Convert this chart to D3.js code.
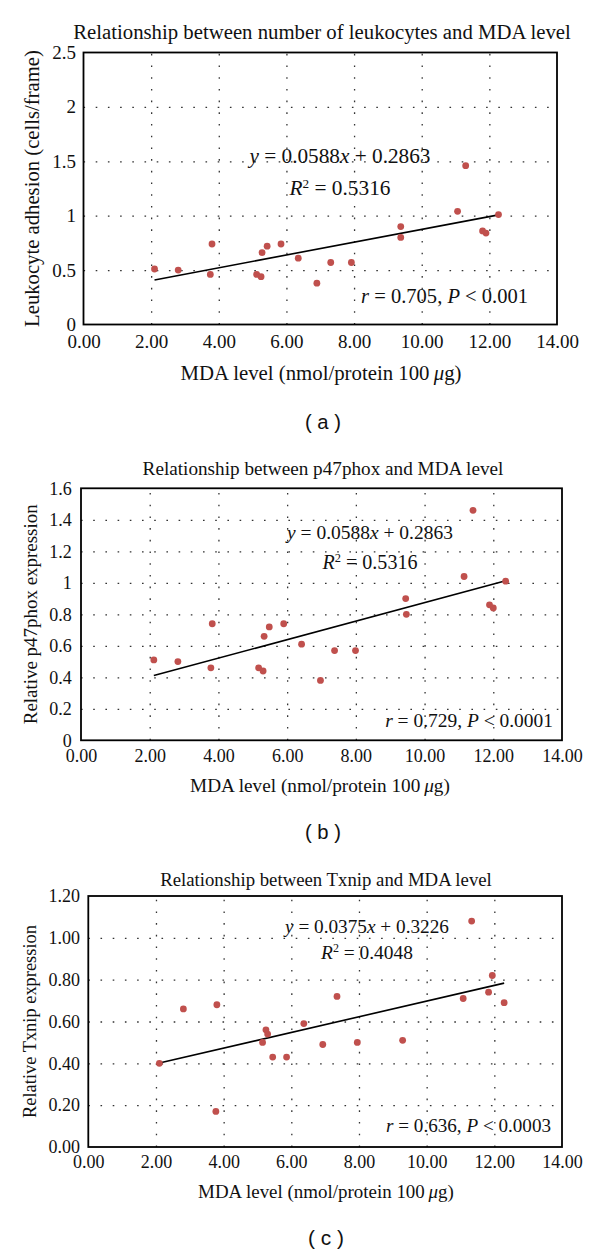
<!DOCTYPE html>
<html>
<head>
<meta charset="utf-8">
<script src="https://cdn.jsdelivr.net/npm/d3@7"></script>
<style>
  body { margin: 0; background: #fff; }
  svg { display: block; }
</style>
</head>
<body>
<div id="chart"></div>
<script>
// values
const xTicks = [0, 2, 4, 6, 8, 10, 12, 14];
const xGrid = [2, 4, 6, 8, 10, 12];

const mdaA = [2.1, 2.8, 3.75, 3.8, 5.12, 5.25, 5.28, 5.43, 5.84, 6.35, 6.9, 7.31, 7.92, 9.38, 9.38, 11.06, 11.3, 11.8, 11.9, 12.27];
const leukocytes = [0.51, 0.50, 0.46, 0.74, 0.46, 0.44, 0.66, 0.72, 0.74, 0.61, 0.38, 0.57, 0.57, 0.90, 0.80, 1.04, 1.46, 0.86, 0.84, 1.01];
const yTicksA = [0, 0.5, 1, 1.5, 2, 2.5];

const mdaB = [2.12, 2.82, 3.78, 3.82, 5.17, 5.30, 5.33, 5.48, 5.90, 6.42, 6.97, 7.38, 7.99, 9.45, 9.47, 11.15, 11.41, 11.89, 12.0, 12.36];
const p47phox = [0.51, 0.50, 0.46, 0.74, 0.46, 0.44, 0.66, 0.72, 0.74, 0.61, 0.38, 0.57, 0.57, 0.90, 0.80, 1.04, 1.46, 0.86, 0.84, 1.01];
const yTicksB = [0, 0.2, 0.4, 0.6, 0.8, 1, 1.2, 1.4, 1.6];

const mdaC = [2.1, 2.81, 3.77, 3.80, 5.15, 5.25, 5.30, 5.45, 5.86, 6.37, 6.93, 7.35, 7.95, 9.29, 11.08, 11.33, 11.83, 11.94, 12.29];
const txnip = [0.40, 0.66, 0.17, 0.68, 0.50, 0.56, 0.54, 0.43, 0.43, 0.59, 0.49, 0.72, 0.50, 0.51, 0.71, 1.08, 0.74, 0.82, 0.69];
const yTicksC = [0, 0.2, 0.4, 0.6, 0.8, 1.0, 1.2];

const serif = "'Liberation Serif', 'Times New Roman', serif";
const sans = "'Liberation Sans', Arial, sans-serif";
const dotColor = "#c0504d";

const svg = d3.select("#chart").append("svg")
  .attr("width", 600)
  .attr("height", 1253);

// scale font size so the text spans the wanted width
function fitWidth(text, target) {
  const w = text.node().getComputedTextLength();
  const fs = parseFloat(text.attr("font-size"));
  if (w > 0) text.attr("font-size", (fs * target) / w);
}

function addParts(text, parts) {
  parts.forEach(p => {
    const t = text.append("tspan").text(p.t);
    if (p.i) t.attr("font-style", "italic");
    if (p.sup) t.attr("baseline-shift", "super").attr("font-size", "62%");
  });
}

function drawPanel(p) {
  const g = svg.append("g");
  const x = d3.scaleLinear().domain([0, 14]).range([p.left, p.right]);
  const y = d3.scaleLinear().domain([0, p.yMax]).range([p.bottom, p.top]);
  const h = p.bottom - p.top;
  const w = p.right - p.left;

  // dotted grid
  g.append("g")
    .attr("transform", `translate(0,${p.bottom})`)
    .call(d3.axisBottom(x).tickValues(xGrid).tickSize(-h).tickFormat(""))
    .call(s => s.select(".domain").remove())
    .selectAll("line")
    .attr("stroke", "#333")
    .attr("stroke-width", 1.3)
    .attr("stroke-dasharray", "1.6,10.1");

  g.append("g")
    .attr("transform", `translate(${p.left},0)`)
    .call(d3.axisLeft(y).tickValues(p.yTicks.slice(1, -1)).tickSize(-w).tickFormat(""))
    .call(s => s.select(".domain").remove())
    .selectAll("line")
    .attr("stroke", "#333")
    .attr("stroke-width", 1.3)
    .attr("stroke-dasharray", "1.6,10.6");

  // frame
  g.append("rect")
    .attr("x", p.left).attr("y", p.top)
    .attr("width", w).attr("height", h)
    .attr("fill", "none")
    .attr("stroke", "#000")
    .attr("stroke-width", 1.8);

  // tick labels
  const xAxis = g.append("g")
    .attr("transform", `translate(0,${p.bottom})`)
    .call(d3.axisBottom(x).tickValues(xTicks).tickSize(0).tickPadding(p.xPad).tickFormat(d3.format(".2f")));
  xAxis.select(".domain").remove();
  xAxis.selectAll("text")
    .attr("font-family", serif).attr("font-size", p.tickSize).attr("fill", "#111");

  const yAxis = g.append("g")
    .attr("transform", `translate(${p.left},0)`)
    .call(d3.axisLeft(y).tickValues(p.yTicks).tickSize(0).tickPadding(p.yPad).tickFormat(p.yFormat));
  yAxis.select(".domain").remove();
  yAxis.selectAll("text")
    .attr("font-family", serif).attr("font-size", p.tickSize).attr("fill", "#111");

  // trend line over the data range
  const xr = d3.extent(p.xs);
  g.append("line")
    .attr("x1", x(xr[0])).attr("y1", y(p.slope * xr[0] + p.intercept))
    .attr("x2", x(xr[1])).attr("y2", y(p.slope * xr[1] + p.intercept))
    .attr("stroke", "#000")
    .attr("stroke-width", 1.6);

  // points
  g.selectAll("circle.pt")
    .data(p.xs.map((v, i) => [v, p.ys[i]]))
    .join("circle")
    .attr("class", "pt")
    .attr("cx", d => x(d[0]))
    .attr("cy", d => y(d[1]))
    .attr("r", 3.4)
    .attr("fill", dotColor);

  // title
  const title = g.append("text")
    .attr("x", p.titleX).attr("y", p.titleY).attr("dy", "0.35em")
    .attr("text-anchor", "middle")
    .attr("font-family", serif).attr("font-size", 18).attr("fill", "#111")
    .text(p.title);
  fitWidth(title, p.titleW);

  // axis titles
  const xt = g.append("text")
    .attr("x", p.xTitleX).attr("y", p.xTitleY).attr("dy", "0.35em")
    .attr("text-anchor", "middle")
    .attr("font-family", serif).attr("font-size", 18).attr("fill", "#111");
  addParts(xt, [{ t: "MDA level (nmol/protein 100\u2009" }, { t: "\u03bc", i: true }, { t: "g)" }]);
  fitWidth(xt, p.xTitleW);

  const yt = g.append("text")
    .attr("transform", `translate(${p.yTitleX},${(p.top + p.bottom) / 2}) rotate(-90)`)
    .attr("dy", "0.35em")
    .attr("text-anchor", "middle")
    .attr("font-family", serif).attr("font-size", 18).attr("fill", "#111")
    .text(p.yTitle);
  fitWidth(yt, p.yTitleW);

  // trendline labels
  const eq = g.append("text")
    .attr("x", p.eqX).attr("y", p.eqY).attr("dy", "0.35em")
    .attr("text-anchor", "middle")
    .attr("font-family", serif).attr("font-size", 18).attr("fill", "#111");
  addParts(eq, [{ t: "y", i: true }, { t: " = " + p.slope + "" }, { t: "x", i: true }, { t: " + " + p.intercept }]);
  fitWidth(eq, p.eqW);

  const r2 = g.append("text")
    .attr("x", p.eqX).attr("y", p.r2Y).attr("dy", "0.35em")
    .attr("text-anchor", "middle")
    .attr("font-family", serif).attr("font-size", 18).attr("fill", "#111");
  addParts(r2, [{ t: "R", i: true }, { t: "2", sup: true }, { t: " = " + p.r2 }]);
  fitWidth(r2, p.r2W);

  const rt = g.append("text")
    .attr("x", p.rX).attr("y", p.rY).attr("dy", "0.35em")
    .attr("text-anchor", "end")
    .attr("font-family", serif).attr("font-size", 18).attr("fill", "#111");
  addParts(rt, [{ t: "r", i: true }, { t: " = " + p.r + ", " }, { t: "P", i: true }, { t: " < " + p.pVal }]);
  fitWidth(rt, p.rW);

  // panel letter
  const lab = g.append("text")
    .attr("x", p.labX).attr("y", p.labY).attr("dy", "0.35em")
    .attr("text-anchor", "middle")
    .attr("font-family", sans).attr("font-size", 18).attr("fill", "#111")
    .attr("xml:space", "preserve")
    .text(p.letter);
  fitWidth(lab, 36);
}

drawPanel({
  left: 83.5, right: 557, top: 52.5, bottom: 324.5,
  yMax: 2.5, yTicks: yTicksA, yFormat: d3.format(""),
  xs: mdaA, ys: leukocytes, slope: 0.0588, intercept: 0.2863,
  tickSize: 19, xPad: 10.5, yPad: 7.5,
  title: "Relationship between number of leukocytes and MDA level",
  titleX: 322, titleY: 32, titleW: 498,
  xTitleX: 321, xTitleY: 373, xTitleW: 281,
  yTitle: "Leukocyte adhesion (cells/frame)", yTitleX: 31.5, yTitleW: 277,
  eqX: 340, eqY: 156, eqW: 181, r2: "0.5316", r2Y: 188, r2W: 101,
  r: "0.705", pVal: "0.001", rX: 528, rY: 296, rW: 167,
  letter: "( a )", labX: 323, labY: 422
});

drawPanel({
  left: 81, right: 562, top: 488.3, bottom: 740.3,
  yMax: 1.6, yTicks: yTicksB, yFormat: d3.format(""),
  xs: mdaB, ys: p47phox, slope: 0.0588, intercept: 0.2863,
  tickSize: 18, xPad: 9, yPad: 9.3,
  title: "Relationship between p47phox and MDA level",
  titleX: 323, titleY: 468, titleW: 361,
  xTitleX: 320, xTitleY: 785, xTitleW: 260,
  yTitle: "Relative p47phox expression", yTitleX: 30, yTitleW: 220,
  eqX: 370, eqY: 532, eqW: 166, r2: "0.5316", r2Y: 562, r2W: 95,
  r: "0.729", pVal: "0.0001", rX: 553, rY: 720, rW: 168,
  letter: "( b )", labX: 323, labY: 832
});

drawPanel({
  left: 88.3, right: 562, top: 896, bottom: 1147,
  yMax: 1.2, yTicks: yTicksC, yFormat: d3.format(".2f"),
  xs: mdaC, ys: txnip, slope: 0.0375, intercept: 0.3226,
  tickSize: 18, xPad: 8.3, yPad: 8.3,
  title: "Relationship between Txnip and MDA level",
  titleX: 326, titleY: 879, titleW: 332,
  xTitleX: 326, xTitleY: 1191, xTitleW: 256,
  yTitle: "Relative Txnip expression", yTitleX: 30, yTitleW: 193,
  eqX: 367, eqY: 926, eqW: 164, r2: "0.4048", r2Y: 952, r2W: 92,
  r: "0.636", pVal: "0.0003", rX: 551, rY: 1125, rW: 165,
  letter: "( c )", labX: 326, labY: 1238
});
</script>
</body>
</html>
